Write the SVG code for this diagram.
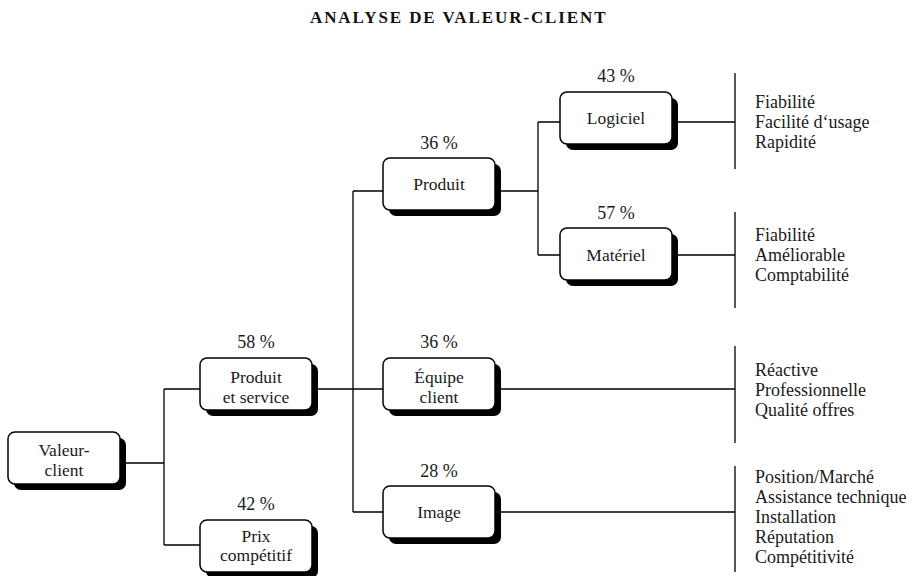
<svg xmlns="http://www.w3.org/2000/svg" width="914" height="576" viewBox="0 0 914 576">
<defs>
<style>
.shadow{fill:#000;}
.box{fill:#fff;stroke:#000;stroke-width:1.5;}
.lbl{font-family:"Liberation Serif","Times New Roman",serif;font-size:17.5px;fill:#1a1a1a;text-anchor:middle;}
.pct{font-family:"Liberation Serif","Times New Roman",serif;font-size:18px;fill:#1a1a1a;text-anchor:middle;}
.item{font-family:"Liberation Serif","Times New Roman",serif;font-size:18px;fill:#1a1a1a;}
.title{font-family:"Liberation Serif","Times New Roman",serif;font-size:17px;font-weight:bold;fill:#111;letter-spacing:1.9px;}
.wire{fill:none;stroke:#000;stroke-width:1.3;}
</style>
</defs>
<rect width="914" height="576" fill="#fff"/>
<text class="title" x="310" y="23">ANALYSE DE VALEUR-CLIENT</text>

<g id="connectors">
<path class="wire" d="M120 463 H164 M164 389 V545 M164 389 H200 M164 545 H200"/>
<path class="wire" d="M312 389 H383 M353 191 V512 M353 191 H383 M353 512 H383"/>
<path class="wire" d="M495 191 H538 M538 122 V255 M538 122 H560 M538 255 H560"/>
<path class="wire" d="M672 122 H735 M672 255 H735 M495 389 H735 M495 512 H735"/>
<path class="wire" d="M735 73 V169 M735 212 V308 M735 346 V443 M735 466 V572"/>
</g>

<g id="valeur-client">
<rect class="shadow" x="14" y="438" width="112" height="52" rx="7"/>
<rect class="box" x="8" y="432" width="112" height="52" rx="7"/>
<text class="lbl" x="64" y="456">Valeur-</text>
<text class="lbl" x="64" y="476">client</text>
</g>

<g id="produit-et-service">
<text class="pct" x="256" y="348">58 %</text>
<rect class="shadow" x="206" y="364" width="112" height="52" rx="7"/>
<rect class="box" x="200" y="358" width="112" height="52" rx="7"/>
<text class="lbl" x="256" y="383">Produit</text>
<text class="lbl" x="256" y="403">et service</text>
</g>

<g id="prix-competitif">
<text class="pct" x="256" y="510">42 %</text>
<rect class="shadow" x="206" y="526" width="112" height="52" rx="7"/>
<rect class="box" x="200" y="520" width="112" height="52" rx="7"/>
<text class="lbl" x="256" y="542">Prix</text>
<text class="lbl" x="256" y="561">compétitif</text>
</g>

<g id="produit">
<text class="pct" x="439" y="149">36 %</text>
<rect class="shadow" x="389" y="164" width="112" height="52" rx="7"/>
<rect class="box" x="383" y="158" width="112" height="52" rx="7"/>
<text class="lbl" x="439" y="190">Produit</text>
</g>

<g id="equipe-client">
<text class="pct" x="439" y="348">36 %</text>
<rect class="shadow" x="389" y="364" width="112" height="52" rx="7"/>
<rect class="box" x="383" y="358" width="112" height="52" rx="7"/>
<text class="lbl" x="439" y="383">Équipe</text>
<text class="lbl" x="439" y="403">client</text>
</g>

<g id="image">
<text class="pct" x="439" y="477">28 %</text>
<rect class="shadow" x="389" y="492" width="112" height="52" rx="7"/>
<rect class="box" x="383" y="486" width="112" height="52" rx="7"/>
<text class="lbl" x="439" y="518">Image</text>
</g>

<g id="logiciel">
<text class="pct" x="616" y="82">43 %</text>
<rect class="shadow" x="566" y="98" width="112" height="52" rx="7"/>
<rect class="box" x="560" y="92" width="112" height="52" rx="7"/>
<text class="lbl" x="616" y="124">Logiciel</text>
</g>

<g id="materiel">
<text class="pct" x="616" y="219">57 %</text>
<rect class="shadow" x="566" y="234" width="112" height="52" rx="7"/>
<rect class="box" x="560" y="228" width="112" height="52" rx="7"/>
<text class="lbl" x="616" y="261">Matériel</text>
</g>

<g id="criteres-logiciel">
<text class="item" x="755" y="107.5">Fiabilité</text>
<text class="item" x="755" y="127.5">Facilité d‘usage</text>
<text class="item" x="755" y="147.5">Rapidité</text>
</g>

<g id="criteres-materiel">
<text class="item" x="755" y="240.5">Fiabilité</text>
<text class="item" x="755" y="260.5">Améliorable</text>
<text class="item" x="755" y="280.5">Comptabilité</text>
</g>

<g id="criteres-equipe">
<text class="item" x="755" y="375.5">Réactive</text>
<text class="item" x="755" y="395.5">Professionnelle</text>
<text class="item" x="755" y="415.5">Qualité offres</text>
</g>

<g id="criteres-image">
<text class="item" x="755" y="483">Position/Marché</text>
<text class="item" x="755" y="503">Assistance technique</text>
<text class="item" x="755" y="523">Installation</text>
<text class="item" x="755" y="543">Réputation</text>
<text class="item" x="755" y="563">Compétitivité</text>
</g>
</svg>
